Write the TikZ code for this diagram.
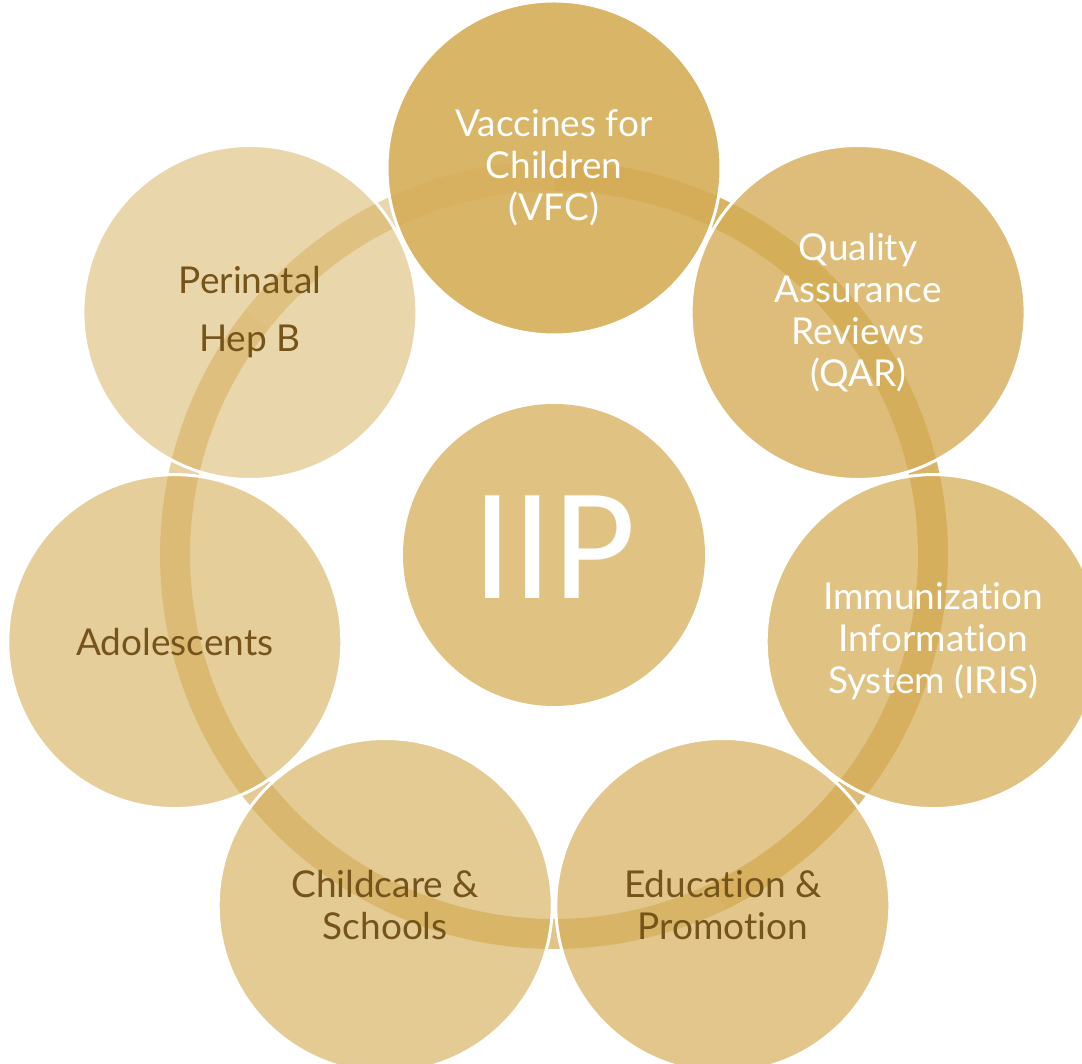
\documentclass[tikz,border=0pt]{standalone}
\usepackage{fontspec}
\setmainfont{Lato}[Ligatures=NoCommon]
\newfontfamily\iipfont{Carlito}
\definecolor{iipgold}{RGB}{213,173,88}
\definecolor{iipbrown}{RGB}{116,84,26}
\tikzset{
  part/.style={circle, minimum size=167pt, inner sep=0pt, draw=white, draw opacity=1,
    line width=1.5pt, fill=iipgold, text opacity=1, align=center,
    font=\fontsize{18.5}{21}\selectfont},
  ringpart/.style={line width=15pt}
}
\begin{document}
\begin{tikzpicture}[x=0.5pt, y=0.5pt]
    \useasboundingbox (0,0) rectangle (1082,1064);

    \node[circle, minimum size=151pt, inner sep=0pt, fill=iipgold!74!white] (hub) at (554,509) {};
    \node[font=\iipfont\fontsize{80}{80}\selectfont, text=white] (iiptext) at ([yshift=4pt]hub.center) {IIP};

    \draw[ringpart, iipgold!93!white] (hub.center) ++(90:189.5pt)
        arc[start angle=90, delta angle=-51.43, radius=189.5pt];
    \draw[ringpart, iipgold!90!white] (hub.center) ++(38.571:189.5pt)
        arc[start angle=38.571, delta angle=-51.43, radius=189.5pt];
    \draw[ringpart, iipgold!83!white] (hub.center) ++(-12.857:189.5pt)
        arc[start angle=-12.857, delta angle=-51.43, radius=189.5pt];
    \draw[ringpart, iipgold!72!white] (hub.center) ++(-64.286:189.5pt)
        arc[start angle=-64.286, delta angle=-51.43, radius=189.5pt];
    \draw[ringpart, iipgold!63!white] (hub.center) ++(-115.714:189.5pt)
        arc[start angle=-115.714, delta angle=-51.43, radius=189.5pt];
    \draw[ringpart, iipgold!55!white] (hub.center) ++(-167.143:189.5pt)
        arc[start angle=-167.143, delta angle=-51.43, radius=189.5pt];
    \draw[ringpart, iipgold!50!white] (hub.center) ++(141.429:189.5pt)
        arc[start angle=141.429, delta angle=-51.43, radius=189.5pt];

    \node[part, fill opacity=0.9, text=white] (vfc) at (554,896)
        {Vaccines for\\Children\\(VFC)};
    \node[part, fill opacity=0.8, text=white] (qar) at (858.1,751.5)
        {Quality\\Assurance\\Reviews\\(QAR)};
    \node[part, fill opacity=0.74, text=white] (iris) at (933.2,422.4)
        {Immunization\\Information\\System (IRIS)};
    \node[part, fill opacity=0.69, text=iipbrown] (edu) at (722.8,158.5)
        {Education \&\\Promotion};
    \node[part, fill opacity=0.64, text=iipbrown] (care) at (385.2,158.5)
        {Childcare \&\\Schools};
    \node[part, fill opacity=0.6, text=iipbrown] (teen) at (174.8,422.4)
        {Adolescents};
    \node[part, fill opacity=0.5, text=iipbrown] (hepb) at (249.9,751.5)
        {Perinatal\\[8pt]Hep B};
\end{tikzpicture}
\end{document}
